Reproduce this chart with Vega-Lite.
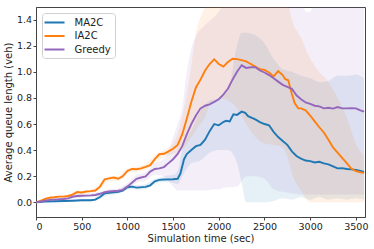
{
  "$schema": "https://vega.github.io/schema/vega-lite/v6.json",
  "width": 329,
  "height": 210,
  "autosize": {"type": "none"},
  "padding": {"left": 36, "top": 7, "right": 9, "bottom": 32},
  "config": {
    "font": "DejaVu Sans",
    "view": {"stroke": "#444", "strokeWidth": 1},
    "axis": {
      "labelFont": "DejaVu Sans", "titleFont": "DejaVu Sans",
      "labelFontSize": 9.5, "titleFontSize": 10, "titleFontWeight": "normal",
      "labelColor": "#222", "titleColor": "#222", "labelOverlap": false,
      "grid": false, "tickSize": 3, "tickColor": "#444", "domainColor": "#444",
      "labelPadding": 1.5
    },
    "legend": {
      "labelFont": "DejaVu Sans", "labelFontSize": 10, "labelColor": "#222"
    }
  },
  "datasets": {
    "lines": [
      {"t":0,"s":"MA2C","v":0.0},{"t":100,"s":"MA2C","v":0.005},{"t":200,"s":"MA2C","v":0.008},{"t":300,"s":"MA2C","v":0.01},{"t":400,"s":"MA2C","v":0.012},{"t":500,"s":"MA2C","v":0.015},{"t":600,"s":"MA2C","v":0.015},{"t":650,"s":"MA2C","v":0.02},{"t":700,"s":"MA2C","v":0.04},{"t":750,"s":"MA2C","v":0.068},{"t":800,"s":"MA2C","v":0.072},{"t":900,"s":"MA2C","v":0.08},{"t":950,"s":"MA2C","v":0.09},{"t":1000,"s":"MA2C","v":0.115},{"t":1050,"s":"MA2C","v":0.12},{"t":1100,"s":"MA2C","v":0.112},{"t":1200,"s":"MA2C","v":0.118},{"t":1250,"s":"MA2C","v":0.13},{"t":1300,"s":"MA2C","v":0.16},{"t":1350,"s":"MA2C","v":0.172},{"t":1400,"s":"MA2C","v":0.175},{"t":1500,"s":"MA2C","v":0.176},{"t":1550,"s":"MA2C","v":0.18},{"t":1580,"s":"MA2C","v":0.22},{"t":1620,"s":"MA2C","v":0.33},{"t":1650,"s":"MA2C","v":0.37},{"t":1700,"s":"MA2C","v":0.4},{"t":1750,"s":"MA2C","v":0.43},{"t":1800,"s":"MA2C","v":0.44},{"t":1850,"s":"MA2C","v":0.48},{"t":1900,"s":"MA2C","v":0.545},{"t":1950,"s":"MA2C","v":0.6},{"t":2000,"s":"MA2C","v":0.59},{"t":2050,"s":"MA2C","v":0.615},{"t":2080,"s":"MA2C","v":0.625},{"t":2120,"s":"MA2C","v":0.62},{"t":2160,"s":"MA2C","v":0.675},{"t":2200,"s":"MA2C","v":0.67},{"t":2250,"s":"MA2C","v":0.695},{"t":2290,"s":"MA2C","v":0.685},{"t":2320,"s":"MA2C","v":0.66},{"t":2400,"s":"MA2C","v":0.635},{"t":2450,"s":"MA2C","v":0.615},{"t":2500,"s":"MA2C","v":0.6},{"t":2550,"s":"MA2C","v":0.59},{"t":2600,"s":"MA2C","v":0.54},{"t":2650,"s":"MA2C","v":0.5},{"t":2700,"s":"MA2C","v":0.47},{"t":2750,"s":"MA2C","v":0.44},{"t":2800,"s":"MA2C","v":0.39},{"t":2850,"s":"MA2C","v":0.355},{"t":2900,"s":"MA2C","v":0.335},{"t":2950,"s":"MA2C","v":0.32},{"t":3000,"s":"MA2C","v":0.315},{"t":3050,"s":"MA2C","v":0.305},{"t":3100,"s":"MA2C","v":0.31},{"t":3150,"s":"MA2C","v":0.298},{"t":3200,"s":"MA2C","v":0.29},{"t":3250,"s":"MA2C","v":0.275},{"t":3300,"s":"MA2C","v":0.26},{"t":3350,"s":"MA2C","v":0.262},{"t":3400,"s":"MA2C","v":0.255},{"t":3450,"s":"MA2C","v":0.252},{"t":3500,"s":"MA2C","v":0.248},{"t":3550,"s":"MA2C","v":0.24},{"t":3590,"s":"MA2C","v":0.233},

      {"t":0,"s":"IA2C","v":0.0},{"t":50,"s":"IA2C","v":0.01},{"t":100,"s":"IA2C","v":0.025},{"t":150,"s":"IA2C","v":0.035},{"t":200,"s":"IA2C","v":0.038},{"t":250,"s":"IA2C","v":0.043},{"t":300,"s":"IA2C","v":0.043},{"t":350,"s":"IA2C","v":0.048},{"t":400,"s":"IA2C","v":0.058},{"t":450,"s":"IA2C","v":0.078},{"t":500,"s":"IA2C","v":0.075},{"t":550,"s":"IA2C","v":0.082},{"t":600,"s":"IA2C","v":0.085},{"t":650,"s":"IA2C","v":0.09},{"t":700,"s":"IA2C","v":0.12},{"t":750,"s":"IA2C","v":0.175},{"t":800,"s":"IA2C","v":0.183},{"t":850,"s":"IA2C","v":0.19},{"t":900,"s":"IA2C","v":0.18},{"t":950,"s":"IA2C","v":0.2},{"t":1000,"s":"IA2C","v":0.24},{"t":1050,"s":"IA2C","v":0.255},{"t":1100,"s":"IA2C","v":0.253},{"t":1150,"s":"IA2C","v":0.26},{"t":1200,"s":"IA2C","v":0.272},{"t":1250,"s":"IA2C","v":0.285},{"t":1300,"s":"IA2C","v":0.33},{"t":1350,"s":"IA2C","v":0.368},{"t":1400,"s":"IA2C","v":0.372},{"t":1450,"s":"IA2C","v":0.39},{"t":1500,"s":"IA2C","v":0.41},{"t":1550,"s":"IA2C","v":0.44},{"t":1600,"s":"IA2C","v":0.52},{"t":1650,"s":"IA2C","v":0.64},{"t":1700,"s":"IA2C","v":0.77},{"t":1750,"s":"IA2C","v":0.88},{"t":1800,"s":"IA2C","v":0.94},{"t":1850,"s":"IA2C","v":1.01},{"t":1900,"s":"IA2C","v":1.06},{"t":1950,"s":"IA2C","v":1.095},{"t":2000,"s":"IA2C","v":1.06},{"t":2050,"s":"IA2C","v":1.04},{"t":2100,"s":"IA2C","v":1.075},{"t":2150,"s":"IA2C","v":1.1},{"t":2200,"s":"IA2C","v":1.097},{"t":2250,"s":"IA2C","v":1.09},{"t":2300,"s":"IA2C","v":1.08},{"t":2350,"s":"IA2C","v":1.06},{"t":2400,"s":"IA2C","v":1.04},{"t":2450,"s":"IA2C","v":1.02},{"t":2500,"s":"IA2C","v":1.015},{"t":2550,"s":"IA2C","v":0.995},{"t":2600,"s":"IA2C","v":0.965},{"t":2650,"s":"IA2C","v":1.005},{"t":2700,"s":"IA2C","v":0.975},{"t":2725,"s":"IA2C","v":0.945},{"t":2760,"s":"IA2C","v":0.935},{"t":2800,"s":"IA2C","v":0.83},{"t":2830,"s":"IA2C","v":0.76},{"t":2870,"s":"IA2C","v":0.72},{"t":2900,"s":"IA2C","v":0.72},{"t":2950,"s":"IA2C","v":0.705},{"t":3000,"s":"IA2C","v":0.665},{"t":3050,"s":"IA2C","v":0.62},{"t":3100,"s":"IA2C","v":0.575},{"t":3150,"s":"IA2C","v":0.535},{"t":3200,"s":"IA2C","v":0.48},{"t":3250,"s":"IA2C","v":0.42},{"t":3300,"s":"IA2C","v":0.38},{"t":3350,"s":"IA2C","v":0.34},{"t":3400,"s":"IA2C","v":0.3},{"t":3450,"s":"IA2C","v":0.258},{"t":3500,"s":"IA2C","v":0.238},{"t":3550,"s":"IA2C","v":0.23},{"t":3590,"s":"IA2C","v":0.225},

      {"t":0,"s":"Greedy","v":0.0},{"t":100,"s":"Greedy","v":0.012},{"t":150,"s":"Greedy","v":0.018},{"t":200,"s":"Greedy","v":0.02},{"t":300,"s":"Greedy","v":0.025},{"t":350,"s":"Greedy","v":0.03},{"t":400,"s":"Greedy","v":0.042},{"t":450,"s":"Greedy","v":0.048},{"t":500,"s":"Greedy","v":0.05},{"t":600,"s":"Greedy","v":0.053},{"t":650,"s":"Greedy","v":0.056},{"t":700,"s":"Greedy","v":0.065},{"t":750,"s":"Greedy","v":0.077},{"t":800,"s":"Greedy","v":0.082},{"t":900,"s":"Greedy","v":0.088},{"t":950,"s":"Greedy","v":0.095},{"t":1000,"s":"Greedy","v":0.12},{"t":1050,"s":"Greedy","v":0.15},{"t":1100,"s":"Greedy","v":0.18},{"t":1150,"s":"Greedy","v":0.19},{"t":1200,"s":"Greedy","v":0.198},{"t":1250,"s":"Greedy","v":0.235},{"t":1300,"s":"Greedy","v":0.255},{"t":1350,"s":"Greedy","v":0.26},{"t":1400,"s":"Greedy","v":0.27},{"t":1450,"s":"Greedy","v":0.3},{"t":1500,"s":"Greedy","v":0.33},{"t":1550,"s":"Greedy","v":0.37},{"t":1600,"s":"Greedy","v":0.43},{"t":1650,"s":"Greedy","v":0.52},{"t":1700,"s":"Greedy","v":0.6},{"t":1750,"s":"Greedy","v":0.665},{"t":1800,"s":"Greedy","v":0.72},{"t":1850,"s":"Greedy","v":0.74},{"t":1900,"s":"Greedy","v":0.75},{"t":1950,"s":"Greedy","v":0.77},{"t":2000,"s":"Greedy","v":0.79},{"t":2050,"s":"Greedy","v":0.825},{"t":2100,"s":"Greedy","v":0.87},{"t":2150,"s":"Greedy","v":0.94},{"t":2200,"s":"Greedy","v":1.0},{"t":2250,"s":"Greedy","v":1.05},{"t":2300,"s":"Greedy","v":1.03},{"t":2350,"s":"Greedy","v":1.035},{"t":2400,"s":"Greedy","v":1.035},{"t":2450,"s":"Greedy","v":1.01},{"t":2500,"s":"Greedy","v":0.995},{"t":2550,"s":"Greedy","v":0.975},{"t":2600,"s":"Greedy","v":0.95},{"t":2650,"s":"Greedy","v":0.925},{"t":2700,"s":"Greedy","v":0.9},{"t":2750,"s":"Greedy","v":0.885},{"t":2800,"s":"Greedy","v":0.87},{"t":2850,"s":"Greedy","v":0.82},{"t":2900,"s":"Greedy","v":0.79},{"t":2950,"s":"Greedy","v":0.765},{"t":3000,"s":"Greedy","v":0.755},{"t":3050,"s":"Greedy","v":0.74},{"t":3100,"s":"Greedy","v":0.735},{"t":3150,"s":"Greedy","v":0.72},{"t":3200,"s":"Greedy","v":0.725},{"t":3250,"s":"Greedy","v":0.718},{"t":3300,"s":"Greedy","v":0.73},{"t":3350,"s":"Greedy","v":0.72},{"t":3400,"s":"Greedy","v":0.72},{"t":3450,"s":"Greedy","v":0.722},{"t":3500,"s":"Greedy","v":0.72},{"t":3550,"s":"Greedy","v":0.705},{"t":3590,"s":"Greedy","v":0.695}
    ],
    "bands": [
      {"t":0,"s":"MA2C","lo":0,"hi":0},{"t":100,"s":"MA2C","lo":0,"hi":0.012},{"t":200,"s":"MA2C","lo":0,"hi":0.016},{"t":300,"s":"MA2C","lo":0.002,"hi":0.02},{"t":400,"s":"MA2C","lo":0.003,"hi":0.022},{"t":500,"s":"MA2C","lo":0.005,"hi":0.025},{"t":600,"s":"MA2C","lo":0.005,"hi":0.025},{"t":700,"s":"MA2C","lo":0.025,"hi":0.06},{"t":800,"s":"MA2C","lo":0.055,"hi":0.09},{"t":900,"s":"MA2C","lo":0.065,"hi":0.095},{"t":1000,"s":"MA2C","lo":0.1,"hi":0.135},{"t":1100,"s":"MA2C","lo":0.095,"hi":0.13},{"t":1200,"s":"MA2C","lo":0.1,"hi":0.14},{"t":1300,"s":"MA2C","lo":0.14,"hi":0.18},{"t":1400,"s":"MA2C","lo":0.155,"hi":0.2},{"t":1500,"s":"MA2C","lo":0.15,"hi":0.21},{"t":1550,"s":"MA2C","lo":0.14,"hi":0.24},{"t":1600,"s":"MA2C","lo":0.2,"hi":0.4},{"t":1700,"s":"MA2C","lo":0.3,"hi":0.55},{"t":1800,"s":"MA2C","lo":0.32,"hi":0.7},{"t":1900,"s":"MA2C","lo":0.38,"hi":0.78},{"t":2000,"s":"MA2C","lo":0.4,"hi":0.8},{"t":2100,"s":"MA2C","lo":0.4,"hi":0.85},{"t":2200,"s":"MA2C","lo":0.3,"hi":1.2},{"t":2250,"s":"MA2C","lo":0.15,"hi":1.3},{"t":2300,"s":"MA2C","lo":0.0,"hi":1.3},{"t":2400,"s":"MA2C","lo":0.0,"hi":1.28},{"t":2500,"s":"MA2C","lo":0.0,"hi":1.22},{"t":2600,"s":"MA2C","lo":0.01,"hi":1.1},{"t":2700,"s":"MA2C","lo":0.03,"hi":1.02},{"t":2800,"s":"MA2C","lo":0.02,"hi":1.0},{"t":2900,"s":"MA2C","lo":0.04,"hi":0.97},{"t":3000,"s":"MA2C","lo":0.02,"hi":0.95},{"t":3100,"s":"MA2C","lo":0.04,"hi":0.92},{"t":3200,"s":"MA2C","lo":0.02,"hi":0.93},{"t":3300,"s":"MA2C","lo":0.03,"hi":0.97},{"t":3400,"s":"MA2C","lo":0.02,"hi":0.97},{"t":3500,"s":"MA2C","lo":0.03,"hi":0.98},{"t":3590,"s":"MA2C","lo":0.02,"hi":0.95},

      {"t":0,"s":"IA2C","lo":0,"hi":0},{"t":100,"s":"IA2C","lo":0.015,"hi":0.035},{"t":200,"s":"IA2C","lo":0.028,"hi":0.048},{"t":300,"s":"IA2C","lo":0.033,"hi":0.053},{"t":400,"s":"IA2C","lo":0.048,"hi":0.07},{"t":500,"s":"IA2C","lo":0.062,"hi":0.088},{"t":600,"s":"IA2C","lo":0.072,"hi":0.098},{"t":700,"s":"IA2C","lo":0.1,"hi":0.14},{"t":800,"s":"IA2C","lo":0.165,"hi":0.2},{"t":900,"s":"IA2C","lo":0.165,"hi":0.2},{"t":1000,"s":"IA2C","lo":0.22,"hi":0.26},{"t":1100,"s":"IA2C","lo":0.235,"hi":0.272},{"t":1200,"s":"IA2C","lo":0.25,"hi":0.295},{"t":1300,"s":"IA2C","lo":0.3,"hi":0.36},{"t":1400,"s":"IA2C","lo":0.345,"hi":0.4},{"t":1500,"s":"IA2C","lo":0.37,"hi":0.45},{"t":1600,"s":"IA2C","lo":0.4,"hi":0.65},{"t":1700,"s":"IA2C","lo":0.5,"hi":1.05},{"t":1750,"s":"IA2C","lo":0.55,"hi":1.3},{"t":1800,"s":"IA2C","lo":0.6,"hi":1.42},{"t":1850,"s":"IA2C","lo":0.65,"hi":1.5},{"t":1900,"s":"IA2C","lo":0.75,"hi":1.6},{"t":2000,"s":"IA2C","lo":0.8,"hi":1.7},{"t":2100,"s":"IA2C","lo":0.78,"hi":1.7},{"t":2200,"s":"IA2C","lo":0.72,"hi":1.7},{"t":2300,"s":"IA2C","lo":0.6,"hi":1.7},{"t":2400,"s":"IA2C","lo":0.5,"hi":1.7},{"t":2500,"s":"IA2C","lo":0.45,"hi":1.7},{"t":2600,"s":"IA2C","lo":0.44,"hi":1.7},{"t":2700,"s":"IA2C","lo":0.42,"hi":1.65},{"t":2750,"s":"IA2C","lo":0.35,"hi":1.55},{"t":2800,"s":"IA2C","lo":0.22,"hi":1.4},{"t":2900,"s":"IA2C","lo":0.09,"hi":1.26},{"t":3000,"s":"IA2C","lo":0.0,"hi":1.1},{"t":3100,"s":"IA2C","lo":0.0,"hi":1.0},{"t":3200,"s":"IA2C","lo":0.0,"hi":0.92},{"t":3300,"s":"IA2C","lo":0.0,"hi":0.8},{"t":3400,"s":"IA2C","lo":0.0,"hi":0.65},{"t":3500,"s":"IA2C","lo":0.0,"hi":0.45},{"t":3590,"s":"IA2C","lo":0.0,"hi":0.35},

      {"t":0,"s":"Greedy","lo":0,"hi":0},{"t":100,"s":"Greedy","lo":0.005,"hi":0.02},{"t":200,"s":"Greedy","lo":0.01,"hi":0.03},{"t":300,"s":"Greedy","lo":0.015,"hi":0.035},{"t":400,"s":"Greedy","lo":0.03,"hi":0.055},{"t":500,"s":"Greedy","lo":0.035,"hi":0.065},{"t":600,"s":"Greedy","lo":0.04,"hi":0.07},{"t":700,"s":"Greedy","lo":0.05,"hi":0.08},{"t":800,"s":"Greedy","lo":0.065,"hi":0.1},{"t":900,"s":"Greedy","lo":0.07,"hi":0.105},{"t":1000,"s":"Greedy","lo":0.095,"hi":0.145},{"t":1100,"s":"Greedy","lo":0.15,"hi":0.21},{"t":1200,"s":"Greedy","lo":0.165,"hi":0.23},{"t":1300,"s":"Greedy","lo":0.21,"hi":0.3},{"t":1400,"s":"Greedy","lo":0.2,"hi":0.33},{"t":1500,"s":"Greedy","lo":0.12,"hi":0.5},{"t":1550,"s":"Greedy","lo":0.09,"hi":0.6},{"t":1600,"s":"Greedy","lo":0.09,"hi":0.72},{"t":1650,"s":"Greedy","lo":0.09,"hi":1.0},{"t":1700,"s":"Greedy","lo":0.09,"hi":1.18},{"t":1750,"s":"Greedy","lo":0.09,"hi":1.27},{"t":1850,"s":"Greedy","lo":0.09,"hi":1.36},{"t":1950,"s":"Greedy","lo":0.1,"hi":1.42},{"t":2000,"s":"Greedy","lo":0.1,"hi":1.46},{"t":2050,"s":"Greedy","lo":0.11,"hi":1.52},{"t":2200,"s":"Greedy","lo":0.12,"hi":1.65},{"t":2300,"s":"Greedy","lo":0.2,"hi":1.7},{"t":2400,"s":"Greedy","lo":0.2,"hi":1.7},{"t":2500,"s":"Greedy","lo":0.18,"hi":1.7},{"t":2600,"s":"Greedy","lo":0.1,"hi":1.7},{"t":2700,"s":"Greedy","lo":0.08,"hi":1.7},{"t":2800,"s":"Greedy","lo":0.07,"hi":1.65},{"t":2900,"s":"Greedy","lo":0.06,"hi":1.55},{"t":2960,"s":"Greedy","lo":0.06,"hi":1.46},{"t":3000,"s":"Greedy","lo":0.06,"hi":1.46},{"t":3050,"s":"Greedy","lo":0.06,"hi":1.55},{"t":3200,"s":"Greedy","lo":0.06,"hi":1.6},{"t":3400,"s":"Greedy","lo":0.06,"hi":1.6},{"t":3590,"s":"Greedy","lo":0.06,"hi":1.6}
    ]
  },
  "layer": [
    {
      "data": {"name": "bands"},
      "mark": {"type": "area", "clip": true, "fillOpacity": 0.11, "interpolate": "monotone"},
      "encoding": {
        "x": {"field": "t", "type": "quantitative", "title": "Simulation time (sec)",
              "scale": {"domain": [0, 3600], "nice": false, "zero": false},
              "axis": {"values": [0, 500, 1000, 1500, 2000, 2500, 3000, 3500], "format": "d", "titlePadding": 2, "labelOverlap": false}},
        "y": {"field": "lo", "type": "quantitative", "title": "Average queue length (veh)",
              "scale": {"domain": [-0.113, 1.497], "nice": false, "zero": false},
              "axis": {"values": [0, 0.2, 0.4, 0.6, 0.8, 1, 1.2, 1.4], "tickCount": 8, "format": ".1f", "titlePadding": 3, "labelOverlap": false}},
        "y2": {"field": "hi"},
        "color": {"field": "s", "type": "nominal"},
        "detail": {"field": "s"}
      }
    },
    {
      "data": {"name": "lines"},
      "mark": {"type": "line", "clip": true, "strokeWidth": 1.9},
      "encoding": {
        "x": {"field": "t", "type": "quantitative", "title": "Simulation time (sec)",
              "scale": {"domain": [0, 3600], "nice": false, "zero": false},
              "axis": {"values": [0, 500, 1000, 1500, 2000, 2500, 3000, 3500], "format": "d", "titlePadding": 2, "labelOverlap": false}},
        "y": {"field": "v", "type": "quantitative", "title": "Average queue length (veh)",
              "scale": {"domain": [-0.113, 1.497], "nice": false, "zero": false},
              "axis": {"values": [0, 0.2, 0.4, 0.6, 0.8, 1, 1.2, 1.4], "tickCount": 8, "format": ".1f", "titlePadding": 3, "labelOverlap": false}},
        "color": {"field": "s", "type": "nominal",
                  "scale": {"domain": ["MA2C", "IA2C", "Greedy"], "range": ["#1f77b4", "#ff7f0e", "#9467bd"]},
                  "legend": {"title": null, "orient": "top-left", "offset": 6, "symbolType": "M-2,0H2", "symbolSize": 100, "symbolStrokeWidth": 2,
                             "symbolFillColor": "transparent", "symbolOffset": 3,
                             "padding": 3.5, "rowPadding": 2.5, "labelOffset": 14,
                             "strokeColor": "#d0d0d0", "fillColor": "rgba(255,255,255,0.85)", "cornerRadius": 3}}
      }
    }
  ]
}
